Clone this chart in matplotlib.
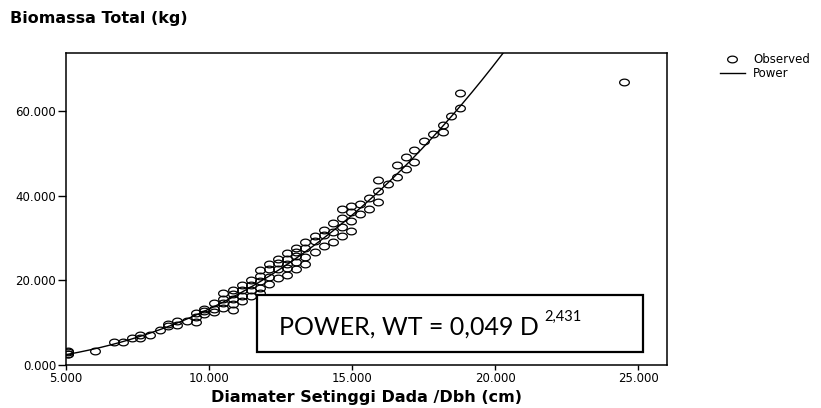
import numpy as np
import matplotlib
matplotlib.use("Agg")
import matplotlib.pyplot as plt
from matplotlib.lines import Line2D
from matplotlib.patches import Rectangle
from matplotlib.ticker import FuncFormatter

# observed trees: diameter at breast height (cm) and total biomass (kg)
dbh = [5.07, 5.07, 5.07, 5.07, 6.02, 6.66, 6.98, 7.30, 7.60, 7.60, 7.93, 8.27,
       8.56, 8.56, 8.89, 8.89, 9.23, 9.54, 9.54, 9.54, 9.83, 9.83, 9.83,
       10.18, 10.18, 10.18, 10.49, 10.49, 10.49, 10.49,
       10.82, 10.82, 10.82, 10.82, 10.82, 11.15, 11.15, 11.15, 11.15,
       11.46, 11.46, 11.46, 11.46, 11.77, 11.77, 11.77, 11.77, 11.77,
       12.10, 12.10, 12.10, 12.10, 12.41, 12.41, 12.41, 12.41,
       12.72, 12.72, 12.72, 12.72, 12.72, 13.03, 13.03, 13.03, 13.03, 13.03,
       13.36, 13.36, 13.36, 13.36, 13.69, 13.69, 13.69, 14.00, 14.00, 14.00,
       14.33, 14.33, 14.33, 14.64, 14.64, 14.64, 14.64, 14.97, 14.97, 14.97, 14.97,
       15.28, 15.28, 15.60, 15.60, 15.90, 15.90, 15.90, 16.25, 16.56, 16.56,
       16.88, 16.88, 17.17, 17.17, 17.50, 17.83, 18.16, 18.16, 18.45,
       18.78, 18.78, 24.49]
biomass = [2.5, 2.7, 3.0, 3.2, 3.3, 5.5, 5.4, 6.4, 7.0, 6.4, 7.1, 8.3,
           9.7, 9.1, 10.5, 9.4, 10.3, 12.2, 11.4, 10.2, 13.3, 12.8, 12.0,
           14.7, 13.3, 12.5, 16.9, 15.7, 14.6, 13.5,
           17.8, 16.7, 15.5, 14.3, 13.1, 18.9, 17.7, 16.3, 15.1,
           20.1, 18.8, 17.6, 16.3, 22.4, 21.0, 19.8, 18.3, 16.9,
           23.8, 22.6, 20.9, 19.2, 25.0, 24.0, 22.6, 20.6,
           26.4, 25.0, 23.8, 22.8, 21.2, 27.7, 26.7, 25.7, 24.4, 22.6,
           29.1, 27.7, 25.6, 23.8, 30.5, 29.3, 26.7, 31.9, 30.6, 28.0,
           33.5, 31.3, 29.1, 36.9, 34.8, 32.7, 30.5, 37.5, 36.2, 34.0, 31.7,
           38.0, 35.6, 39.5, 36.9, 43.7, 41.1, 38.5, 42.7, 47.2, 44.4,
           49.1, 46.2, 50.9, 47.9, 52.8, 54.6, 56.7, 55.0, 58.7,
           64.3, 60.8, 66.9]

# fitted power model WT = a * D^b
coef_a = 0.049
coef_b = 2.431

x_ticks = [5, 10, 15, 20, 25]
y_ticks = [0, 20, 40, 60]

fig = plt.figure(figsize=(8.21, 4.08), dpi=100)
ax = fig.add_axes([0.0804, 0.1054, 0.732, 0.7647])

# slightly wide open circles, like the SPSS output
t = np.linspace(0, 2 * np.pi, 41)
ell = np.column_stack([1.45 * np.cos(t), np.sin(t)])

ax.plot(dbh, biomass, linestyle="none", marker=ell, ms=7.0,
        mfc="none", mec="black", mew=0.9, label="Observed", zorder=3)

d_fit = np.linspace(5, 26, 300)
ax.plot(d_fit, coef_a * d_fit ** coef_b, color="black", lw=1.0,
        label="Power", zorder=2)

ax.set_xlim(5, 26)
ax.set_ylim(0, 73.7)
ax.set_xticks(x_ticks)
ax.set_yticks(y_ticks)
fmt = FuncFormatter(lambda v, pos: f"{v:.3f}")
ax.xaxis.set_major_formatter(fmt)
ax.yaxis.set_major_formatter(fmt)
ax.tick_params(axis="x", direction="out", length=3.5, width=1, pad=1.5, labelsize=8.5)
ax.tick_params(axis="y", direction="out", length=6, width=1, pad=1, labelsize=8.5)
for s in ax.spines.values():
    s.set_linewidth(1.1)

ax.set_xlabel("Diamater Setinggi Dada /Dbh (cm)", fontsize=11.5,
              fontweight="bold", labelpad=4)
fig.text(10 / 821, 1 - 18 / 408, "Biomassa Total (kg)", fontsize=11.5,
         fontweight="bold", ha="left", va="center")

# equation box
box = Rectangle((0.318, 0.042), 0.642, 0.182, transform=ax.transAxes,
                facecolor="white", edgecolor="black", lw=1.6, zorder=5)
ax.add_patch(box)
eq = ax.text(0.354, 0.096, "POWER, WT = 0,049 D", transform=ax.transAxes,
             fontsize=18, family="Lato", ha="left", va="baseline", zorder=6)
ax.annotate("2,431", xy=(1.0, 0.68), xycoords=eq, xytext=(4, 0),
            textcoords="offset points", fontsize=10.5, family="Lato",
            ha="left", va="bottom", zorder=6)

handles = [Line2D([], [], linestyle="none", marker=ell, ms=7.0, mfc="none",
                  mec="black", mew=0.9),
           Line2D([], [], color="black", lw=1.0)]
fig.legend(handles, ["Observed", "Power"], loc="upper left",
           bbox_to_anchor=(720 / 821, 1 - 53 / 408), frameon=False,
           fontsize=8.5, handlelength=2.1, handletextpad=0.7,
           labelspacing=0.1, borderpad=0, borderaxespad=0)

fig.savefig("out.png", dpi=100)
